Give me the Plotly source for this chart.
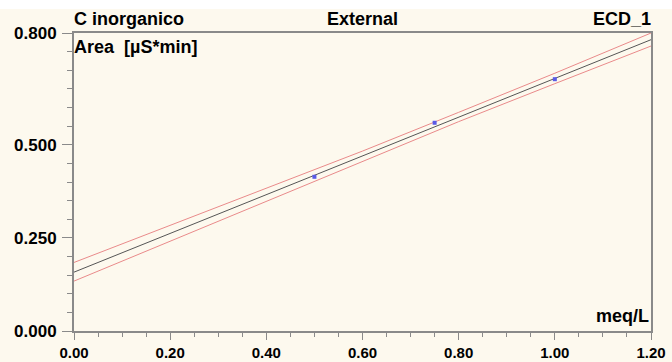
import plotly.graph_objects as go

# Data
pts_x = [0.50, 0.75, 1.00]
pts_y = [0.414, 0.559, 0.676]

fit_x = [0.0, 1.2]
fit_y = [0.158, 0.782]

band_x = [0.0, 0.2, 0.4, 0.6, 0.8, 1.0, 1.2]
band_upper = [0.184, 0.283, 0.382, 0.483, 0.587, 0.692, 0.800]
band_lower = [0.134, 0.241, 0.350, 0.457, 0.562, 0.664, 0.765]

y_tickvals = [0.0, 0.25, 0.5, 0.8]
y_ticktext = ["0.000", "0.250", "0.500", "0.800"]

title_left = "C inorganico"
title_mid = "External"
title_right = "ECD_1"
y_label = "Area  [µS*min]"
x_label = "meq/L"

CREAM = "#FDF9EE"
AXIS = "#8a8a8a"
FONT = "Liberation Sans"

W, H = 672, 362
L, R, T, B = 74, 21, 33, 31
pw, ph = W - L - R, H - T - B

fig = go.Figure()
fig.add_trace(go.Scatter(x=band_x, y=band_upper, mode="lines",
                         line=dict(color="#e98a8a", width=1), hoverinfo="skip"))
fig.add_trace(go.Scatter(x=band_x, y=band_lower, mode="lines",
                         line=dict(color="#e98a8a", width=1), hoverinfo="skip"))
fig.add_trace(go.Scatter(x=fit_x, y=fit_y, mode="lines",
                         line=dict(color="#555555", width=1)))
fig.add_trace(go.Scatter(x=pts_x, y=pts_y, mode="markers",
                         marker=dict(color="#5a5ae6", size=4, symbol="square")))

# white strip at very top
fig.add_shape(type="rect", xref="paper", yref="paper",
              x0=-L / pw, x1=1 + R / pw, y0=1 + (T - 9) / ph, y1=1 + T / ph,
              fillcolor="white", line=dict(width=0), layer="below")

bold = dict(family=FONT, size=18, color="black", weight="bold")
tickbold = dict(family=FONT, size=17, color="black", weight="bold")
xtickbold = dict(family=FONT, size=15, color="black", weight="bold")

fig.add_annotation(x=0, y=1 + 14 / ph, xref="paper", yref="paper", text=title_left,
                   showarrow=False, xanchor="left", yanchor="middle", font=bold, xshift=-2)
fig.add_annotation(x=0.5, y=1 + 14 / ph, xref="paper", yref="paper", text=title_mid,
                   showarrow=False, xanchor="center", yanchor="middle", font=bold)
fig.add_annotation(x=1, y=1 + 14 / ph, xref="paper", yref="paper", text=title_right,
                   showarrow=False, xanchor="right", yanchor="middle", font=bold, xshift=2)
fig.add_annotation(x=0, y=1 - 14 / ph, xref="paper", yref="paper", text=y_label,
                   showarrow=False, xanchor="left", yanchor="middle", font=bold, xshift=-2)
fig.add_annotation(x=1, y=15 / ph, xref="paper", yref="paper", text=x_label,
                   showarrow=False, xanchor="right", yanchor="middle", font=bold, xshift=0)

fig.update_layout(
    width=W, height=H,
    margin=dict(l=L, r=R, t=T, b=B, pad=0, autoexpand=False),
    paper_bgcolor=CREAM, plot_bgcolor=CREAM,
    showlegend=False,
    font=dict(family=FONT, size=16, color="black"),
)
fig.update_xaxes(
    range=[0, 1.2], dtick=0.2, tickformat=".2f", automargin=False,
    showgrid=False, zeroline=False,
    showline=True, linecolor=AXIS, linewidth=1.5, mirror=True,
    ticks="outside", ticklen=7, tickcolor=AXIS, tickwidth=1,
    minor=dict(dtick=0.05, ticks="outside", ticklen=4, tickcolor=AXIS, tickwidth=1),
    tickfont=xtickbold, ticklabelstandoff=0,
)
fig.update_yaxes(
    range=[0, 0.8], tickmode="array", tickvals=y_tickvals, ticktext=y_ticktext,
    automargin=False,
    showgrid=False, zeroline=False,
    showline=True, linecolor=AXIS, linewidth=2, mirror=True,
    ticks="outside", ticklen=10, tickcolor=AXIS, tickwidth=1,
    minor=dict(tickmode="linear", tick0=0, dtick=0.05, ticks="outside", ticklen=5,
               tickcolor=AXIS, tickwidth=1),
    tickfont=tickbold, ticklabelstandoff=2,
)

fig.write_html("out.html")
